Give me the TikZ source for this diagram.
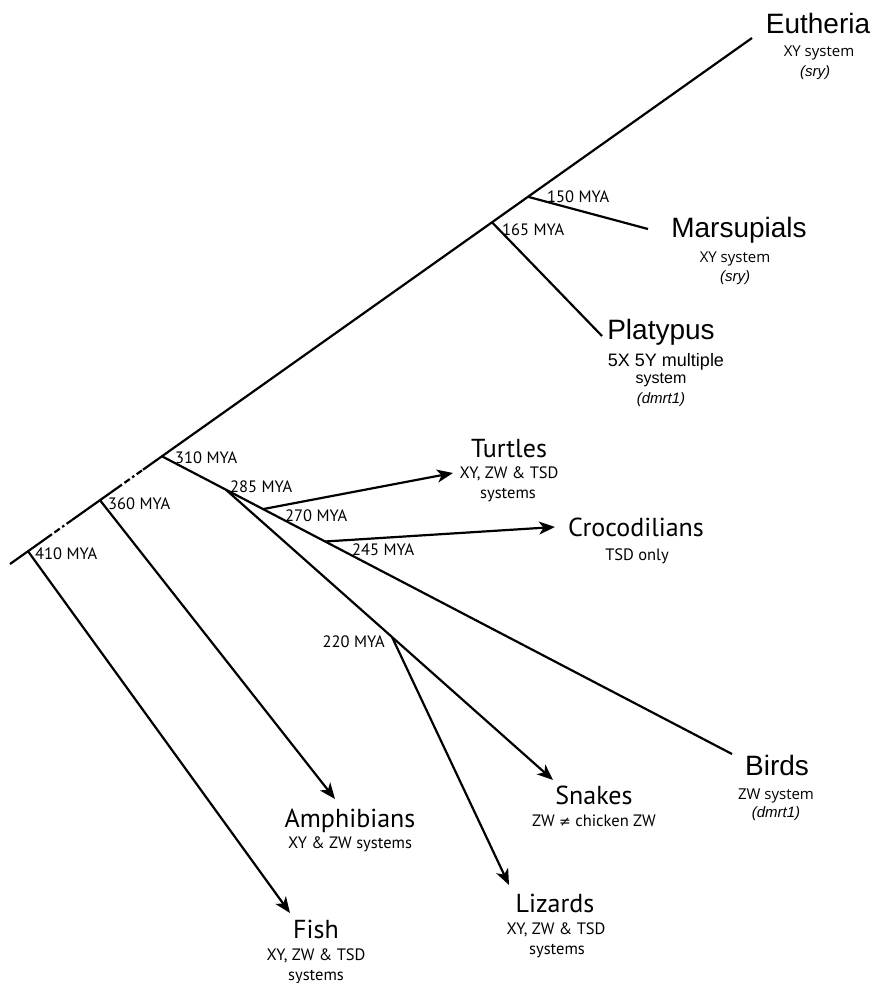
\documentclass[tikz,border=0pt]{standalone}
\usepackage{fontspec}
\setmainfont{Liberation Sans}
\newfontfamily\myr{PT Sans}
\newfontfamily\opn{Open Sans}
\newfontfamily\djv{DejaVu Sans}
\usetikzlibrary{arrows.meta}
\tikzset{
  branch/.style={line width=2.2pt, line cap=butt},
  arr/.style={branch, -{Stealth[length=16pt,width=13pt,inset=4.5pt]}},
  gapline/.style={branch, dash pattern=on 0pt off 3pt on 6.5pt off 3pt on 2.5pt off 3pt on 6.5pt off 3pt},
  lbl/.style={anchor=base, inner sep=0pt, outer sep=0pt},
  atitle/.style={lbl, font=\fontsize{28}{28}\selectfont},
  mtitle/.style={lbl, font=\myr\fontsize{26}{26}\selectfont},
  msub/.style={lbl, font=\myr\fontsize{16.5}{16.5}\selectfont},
  osub/.style={lbl, font=\opn\fontsize{15}{15}\selectfont},
  asub/.style={lbl, font=\fontsize{18}{18}\selectfont},
  aital/.style={lbl, font=\itshape\fontsize{15}{15}\selectfont},
  mya/.style={anchor=base west, inner sep=0pt, font=\myr\fontsize{16.5}{16.5}\selectfont},
}
\begin{document}
\begin{tikzpicture}[x=1pt,y=-1pt]
\useasboundingbox (0,0) rectangle (876,983);
% main stem
\coordinate (root) at (10,564);
\coordinate (n410) at (28,551.2);
\coordinate (g1a) at (52,534.2);
\coordinate (g1b) at (72,520.0);
\coordinate (n360) at (100,500.2);
\coordinate (g2a) at (122,484.6);
\coordinate (g2b) at (143,469.7);
\coordinate (n310) at (162,456.3);
\coordinate (n165) at (492,222.3);
\coordinate (n150) at (528,196.8);
\coordinate (eut) at (752,38);
% inner branch points
\coordinate (n285) at (226,489.8);
\coordinate (n270) at (263,509.1);
\coordinate (n245) at (325,541.5);
\coordinate (birdend) at (732,754);
\coordinate (n220) at (392,637);
\coordinate (snaketip) at (553,780);
\coordinate (lizardtip) at (509,885);
\coordinate (turtletip) at (453,473);
\coordinate (croctip) at (555,527);
\coordinate (fishtip) at (290,913);
\coordinate (amphtip) at (335,799);
\coordinate (platend) at (602,336);
\coordinate (marsend) at (648,229);

\draw[branch] (root) -- (g1a);
\draw[gapline] (g1a) -- (g1b);
\draw[branch] (g1b) -- (g2a);
\draw[gapline] (g2a) -- (g2b);
\draw[branch] (g2b) -- (eut);

\draw[branch] (n310) -- (birdend);
\draw[branch] (n285) -- (n220);
\draw[arr] (n220) -- (snaketip);
\draw[arr] (n220) -- (lizardtip);
\draw[arr] (n270) -- (turtletip);
\draw[arr] (n245) -- (croctip);
\draw[arr] (n410) -- (fishtip);
\draw[arr] (n360) -- (amphtip);
\draw[branch] (n165) -- (platend);
\draw[branch] (n150) -- (marsend);

% age labels
\node[mya] (l410) at (35,559) {410 MYA};
\node[mya] (l360) at (108,509) {360 MYA};
\node[mya] (l310) at (175,463) {310 MYA};
\node[mya] (l285) at (230,492) {285 MYA};
\node[mya] (l270) at (285,521) {270 MYA};
\node[mya] (l245) at (352,555) {245 MYA};
\node[mya, anchor=base east] (l220) at (385,647) {220 MYA};
\node[mya] (l165) at (502,235) {165 MYA};
\node[mya] (l150) at (547,202) {150 MYA};

% Eutheria
\node[atitle] (eutt) at (818,33) {Eutheria};
\node[osub] (euts) at (819,56) {XY system};
\node[aital] (eutg) at (815,76) {(sry)};
% Marsupials
\node[atitle] (marst) at (739,237) {Marsupials};
\node[osub] (marss) at (735,262) {XY system};
\node[aital] (marsg) at (735,281) {(sry)};
% Platypus
\node[atitle] (platt) at (661,339) {Platypus};
\node[asub] (plats1) at (666,366) {5X 5Y multiple};
\node[asub, font=\fontsize{16}{16}\selectfont] (plats2) at (661,383) {system};
\node[aital] (platg) at (661,403) {(dmrt1)};
% Turtles
\node[mtitle] (turt) at (509,457) {Turtles};
\node[msub] (turs1) at (509,478) {XY, ZW \& TSD};
\node[msub] (turs2) at (508,498) {systems};
% Crocodilians
\node[mtitle] (croct) at (636,536) {Crocodilians};
\node[msub] (crocs) at (637,560) {TSD only};
% Birds
\node[atitle] (birdt) at (777,775) {Birds};
\node[osub] (birds) at (776,799) {ZW system};
\node[aital] (birdg) at (776,817) {(dmrt1)};
% Snakes
\node[mtitle] (snaket) at (594,804) {Snakes};
\node[msub] (snakes) at (594,826) {ZW {\djv\fontsize{14}{14}\selectfont ≠} chicken ZW};
% Amphibians
\node[mtitle] (amphit) at (350,827) {Amphibians};
\node[msub] (amphis) at (350,848) {XY \& ZW systems};
% Lizards
\node[mtitle] (lizt) at (555,912) {Lizards};
\node[msub] (lizs1) at (556,934) {XY, ZW \& TSD};
\node[msub] (lizs2) at (557,954) {systems};
% Fish
\node[mtitle] (fisht) at (316,938) {Fish};
\node[msub] (fishs1) at (316,960) {XY, ZW \& TSD};
\node[msub] (fishs2) at (316,980) {systems};
\end{tikzpicture}
\end{document}
